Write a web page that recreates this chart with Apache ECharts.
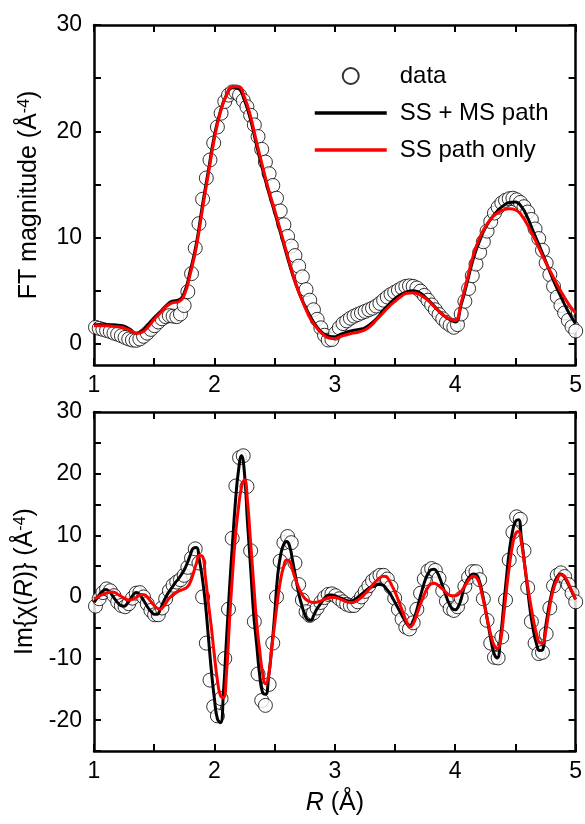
<!DOCTYPE html>
<html>
<head>
<meta charset="utf-8">
<script src="https://cdn.jsdelivr.net/npm/echarts@6/dist/echarts.min.js"></script>
<style>
  html, body { margin: 0; padding: 0; background: #fff; }
  #main { width: 585px; height: 824px; }
</style>
</head>
<body>
<div id="main"></div>
<script>
// sampling grids (R in Angstrom)
const dataR = Array.from({ length: 131 }, (_, i) => +(0.03068 * (33 + i)).toFixed(4));
const topFitR = Array.from({ length: 81 }, (_, i) => +(1 + 0.05 * i).toFixed(3));
const botFitR = Array.from({ length: 161 }, (_, i) => +(1 + 0.025 * i).toFixed(3));

// FT magnitude panel
const topData = [
  1.55, 1.45, 1.35, 1.25, 1.15, 1.0, 0.9, 0.75, 0.6, 0.45,
  0.35, 0.32, 0.45, 0.7, 1.0, 1.35, 1.7, 2.05, 2.35, 2.55,
  2.65, 2.6, 2.55, 2.8, 3.6, 4.9, 6.6, 9.0, 11.3, 13.6,
  15.6, 17.3, 18.9, 20.4, 21.7, 22.8, 23.4, 23.7, 23.7, 23.4,
  22.9, 22.3, 21.5, 20.6, 19.5, 18.3, 17.1, 16.0, 14.9, 13.7,
  12.5, 11.2, 10.1, 9.2, 8.3, 7.3, 6.3, 5.1, 4.1, 3.2,
  2.3, 1.5, 0.8, 0.35, 0.4, 1.0, 1.5, 1.9, 2.15, 2.4,
  2.6, 2.75, 2.9, 3.05, 3.2, 3.35, 3.55, 3.8, 4.1, 4.4,
  4.65, 4.85, 5.05, 5.25, 5.4, 5.45, 5.4, 5.25, 4.95, 4.55,
  4.1, 3.65, 3.2, 2.75, 2.35, 2.0, 1.75, 1.55, 1.8, 2.8,
  4.0, 5.2, 6.4, 7.5, 8.6, 9.6, 10.6, 11.5, 12.3, 12.85,
  13.25, 13.5, 13.65, 13.7, 13.55, 13.3, 12.9, 12.4, 11.7, 10.8,
  9.9, 8.8, 7.6, 6.5, 5.4, 4.4, 3.6, 2.9, 2.2, 1.6,
  1.2
];
const topSSMS = [
  1.8, 1.8, 1.8, 1.8, 1.75, 1.65, 1.35, 1.0, 1.2, 1.8,
  2.45, 3.0, 3.6, 4.0, 4.1, 4.8, 6.9, 9.4, 13.0, 16.3,
  19.6, 21.9, 23.4, 24.1, 24.0, 22.9, 21.1, 18.7, 16.4, 14.3,
  12.4, 10.4, 8.4, 6.5, 4.9, 3.6, 2.5, 1.6, 1.0, 0.7,
  0.65, 0.9, 1.1, 1.25, 1.35, 1.5, 1.9, 2.4, 3.1, 3.7,
  4.25, 4.65, 4.9, 5.0, 4.85, 4.4, 3.85, 3.25, 2.7, 2.3,
  2.05, 3.7, 5.8, 8.0, 9.6, 10.9, 11.8, 12.5, 13.0, 13.3,
  13.35, 12.9, 11.9, 10.5, 9.2, 7.8, 6.4, 5.1, 3.9, 2.8,
  1.9
];
const topSS = [
  1.7, 1.7, 1.7, 1.65, 1.6, 1.5, 1.25, 1.0, 1.1, 1.6,
  2.3, 2.9, 3.5, 3.85, 3.95, 4.6, 6.6, 9.1, 12.6, 16.0,
  19.3, 21.8, 23.4, 24.2, 24.2, 23.2, 21.4, 19.0, 16.7, 14.5,
  12.6, 10.6, 8.6, 6.6, 4.9, 3.5, 2.3, 1.5, 0.9, 0.55,
  0.5, 0.7, 0.85, 1.0, 1.1, 1.3, 1.7, 2.3, 2.9, 3.5,
  4.0, 4.45, 4.75, 4.8, 4.65, 4.3, 3.8, 3.2, 2.7, 2.35,
  2.2, 3.9, 6.1, 8.3, 9.9, 11.0, 11.8, 12.3, 12.6, 12.7,
  12.6, 12.1, 11.2, 10.1, 8.9, 7.7, 6.6, 5.5, 4.5, 3.6,
  2.9
];

// Im{chi(R)} panel
const botData = [
  -1.5, -0.3, 0.7, 1.3, 1.0, 0.2, -0.8, -1.4, -1.6, -1.1,
  -0.2, 0.6, 0.7, 0.0, -1.1, -2.2, -2.9, -2.9, -1.8, -0.3,
  1.0, 1.9, 2.4, 2.8, 3.5, 4.8, 6.3, 7.8, 5.5, 0.0,
  -7.5, -13.5, -17.8, -19.3, -16.5, -10.0, -2.0, 9.5, 18.0, 22.6,
  22.9, 17.9, 7.5, -4.0, -12.5, -16.8, -17.6, -14.2, -7.5, 0.0,
  5.8, 8.8, 9.8, 8.8, 5.5, 2.0, -0.5, -2.4, -3.0, -2.6,
  -1.8, -0.9, -0.1, 0.4, 0.5, 0.2, -0.3, -0.8, -1.2, -1.4,
  -1.4, -0.8, 0.0, 0.9, 1.8, 2.6, 3.1, 3.5, 3.5, 2.9,
  1.6, -0.2, -2.0, -3.6, -4.9, -5.2, -4.2, -2.0, 0.6, 2.9,
  4.2, 4.6, 4.3, 3.0, 1.0, -0.7, -1.9, -2.2, -1.6, -0.2,
  1.7, 3.2, 4.1, 4.1, 2.8, -0.3, -3.8, -7.5, -9.8, -9.9,
  -6.5, -0.5, 6.0, 10.5, 13.0, 12.6, 7.5, 1.5, -4.0, -7.5,
  -9.2, -9.0, -6.0, -1.8, 1.8, 3.5, 3.9, 3.3, 2.0, 0.6,
  -0.8
];
const botSSMS = [
  -0.9, -0.2, 0.5, 1.0, 1.2, 0.9, 0.3, -0.4, -1.0, -1.4,
  -1.5, -1.1, -0.4, 0.3, 0.7, 0.5, -0.2, -1.0, -1.8, -2.4,
  -2.8, -2.8, -2.0, -0.9, 0.1, 0.9, 1.6, 2.3, 2.9, 3.6,
  4.4, 5.5, 6.8, 7.9, 8.0, 6.0, 3.0, -1.0, -6.5, -12.0,
  -16.5, -19.8, -20.4, -15.5, -7.0, 1.2, 8.6, 15.5, 20.5, 22.9,
  20.0, 12.0, 5.0, -2.5, -7.5, -12.5, -15.5, -15.8, -13.0, -8.5,
  -3.0, 3.4, 6.8, 8.5, 9.0, 8.2, 5.8, 3.2, 0.6, -1.3,
  -2.8, -3.7, -3.8, -3.0, -2.0, -1.3, -0.6, 0.0, 0.3, 0.3,
  0.2, 0.0, -0.2, -0.4, -0.6, -0.7, -0.6, -0.3, 0.1, 0.5,
  0.9, 1.3, 1.6, 1.8, 2.0, 2.0, 1.9, 1.4, 0.8, 0.0,
  -0.9, -1.8, -2.7, -3.6, -4.4, -4.6, -3.9, -2.5, -0.7, 1.1,
  2.7, 3.8, 4.4, 4.5, 4.0, 2.9, 1.5, 0.1, -1.1, -1.9,
  -2.1, -1.6, -0.3, 1.6, 2.7, 3.4, 3.7, 3.6, 2.6, 0.6,
  -1.9, -4.6, -7.3, -9.3, -9.9, -6.8, -2.0, 3.0, 7.5, 10.5,
  12.2, 12.5, 9.5, 5.5, 1.5, -2.5, -5.5, -7.6, -8.7, -8.6,
  -5.0, -2.0, 0.5, 2.3, 3.3, 3.7, 3.4, 2.6, 1.6, 0.6,
  -0.4
];
const botSS = [
  -0.3, -0.1, 0.2, 0.4, 0.6, 0.75, 0.8, 0.7, 0.4, 0.1,
  -0.2, -0.45, -0.5, -0.35, -0.1, 0.2, 0.4, 0.3, -0.2, -0.8,
  -1.4, -1.85, -2.0, -1.6, -0.9, -0.2, 0.3, 0.6, 0.9, 1.1,
  1.3, 1.6, 2.4, 3.8, 5.4, 6.7, 6.6, 3.3, -1.0, -5.0,
  -9.5, -13.5, -16.0, -16.3, -12.5, -4.0, 3.5, 10.0, 14.5, 17.8,
  19.0, 15.5, 9.0, 2.5, -4.0, -8.5, -12.3, -14.1, -12.8, -8.5,
  -4.5, -0.5, 2.8, 4.9, 6.0, 5.8, 4.3, 2.8, 1.5, 0.5,
  -0.2, -0.6, -0.8, -0.9, -0.85, -0.75, -0.5, -0.3, -0.15, -0.1,
  -0.1, -0.2, -0.4, -0.6, -0.8, -0.9, -0.9, -0.7, -0.4, 0.0,
  0.5, 1.0, 1.6, 2.2, 2.7, 3.1, 3.35, 3.3, 2.7, 1.8,
  0.8, -0.4, -1.7, -3.0, -4.2, -4.9, -4.4, -3.2, -1.8, -0.5,
  0.7, 1.6, 2.1, 2.2, 2.0, 1.6, 1.2, 0.7, 0.3, 0.2,
  0.2, 0.4, 0.9, 1.6, 2.4, 3.0, 3.4, 3.2, 2.2, 0.2,
  -2.0, -4.4, -6.5, -7.9, -8.4, -7.3, -3.5, 1.0, 5.0, 8.3,
  10.2, 10.6, 8.8, 5.5, 2.0, -1.0, -3.8, -6.0, -7.4, -7.5,
  -5.8, -2.8, 0.0, 1.8, 3.0, 3.6, 3.5, 2.8, 1.8, 0.7,
  -0.4
];

const xTicks = [1, 2, 3, 4, 5];
const topYLabels = [0, 10, 20, 30];
const topYTicks = [0, 5, 10, 15, 20, 25, 30];

const font = 'Arial, "Liberation Sans", Helvetica, sans-serif';
const pairs = (xs, ys) => xs.map((x, i) => [x, ys[i]]);

const axisLine = { show: true, onZero: false, lineStyle: { color: '#000', width: 2.5 } };
const tick = { inside: true, length: 7, lineStyle: { color: '#000', width: 2 } };
const label = { color: '#000', fontSize: 23, fontFamily: font };
const nameStyle = {
  color: '#000', fontSize: 25, fontFamily: font,
  rich: {
    i: { fontStyle: 'italic', fontSize: 25, fontFamily: font, color: '#000' },
    s: { fontSize: 16, fontFamily: font, color: '#000', verticalAlign: 'top' }
  }
};
const hiddenDot = { color: 'rgba(0,0,0,0)', borderColor: 'rgba(0,0,0,0)', borderWidth: 0, opacity: 0 };

function xAxisFor(grid, pos, withLabels, name) {
  return {
    gridIndex: grid, type: 'value', position: pos, min: 1, max: 5, interval: 0.5,
    axisLine: axisLine, axisTick: tick, splitLine: { show: false },
    axisLabel: withLabels ? Object.assign({
      margin: 9,
      formatter: v => (xTicks.indexOf(v) >= 0 ? String(v) : '')
    }, label) : { show: false },
    name: name || '', nameLocation: 'middle', nameGap: 40, nameTextStyle: nameStyle
  };
}

const option = {
  animation: false,
  backgroundColor: '#fff',
  grid: [
    { left: 94, right: 7, top: 25, height: 340 },
    { left: 94, right: 7, top: 412, height: 339 }
  ],
  legend: {
    data: [
      { name: 'data' },
      { name: 'SS + MS path', itemStyle: hiddenDot, lineStyle: { color: '#000', width: 3.5 } },
      { name: 'SS path only', itemStyle: hiddenDot, lineStyle: { color: '#ff0000', width: 3.5 } }
    ],
    orient: 'vertical',
    left: 308, top: 59,
    itemWidth: 72, itemHeight: 16, itemGap: 13,
    textStyle: { color: '#000', fontSize: 24, fontFamily: font, padding: [0, 0, 0, 8] }
  },
  xAxis: [
    xAxisFor(0, 'bottom', true),
    xAxisFor(0, 'top', false),
    xAxisFor(1, 'bottom', true, '{i|R} (Å)'),
    xAxisFor(1, 'top', false)
  ],
  yAxis: [
    {
      gridIndex: 0, type: 'value', position: 'left', min: -2, max: 30,
      axisLine: axisLine, splitLine: { show: false },
      axisTick: Object.assign({ customValues: topYTicks }, tick),
      axisLabel: Object.assign({ margin: 12, customValues: topYLabels }, label),
      name: 'FT magnitude (Å{s|-4})', nameLocation: 'middle', nameGap: 52, nameTextStyle: nameStyle
    },
    {
      gridIndex: 0, type: 'value', position: 'right', min: -2, max: 30,
      axisLine: axisLine, splitLine: { show: false },
      axisTick: Object.assign({ customValues: topYTicks }, tick),
      axisLabel: { show: false }
    },
    {
      gridIndex: 1, type: 'value', position: 'left', min: -25, max: 30, interval: 5,
      axisLine: axisLine, splitLine: { show: false }, axisTick: tick,
      axisLabel: Object.assign({ margin: 12, formatter: v => (v % 10 === 0 ? String(v) : '') }, label),
      name: 'Im{χ({i|R})} (Å{s|-4})', nameLocation: 'middle', nameGap: 52, nameTextStyle: nameStyle
    },
    {
      gridIndex: 1, type: 'value', position: 'right', min: -25, max: 30, interval: 5,
      axisLine: axisLine, splitLine: { show: false }, axisTick: tick,
      axisLabel: { show: false }
    }
  ],
  series: [
    {
      name: 'data', type: 'scatter', xAxisIndex: 0, yAxisIndex: 0, clip: false,
      symbol: 'circle', symbolSize: 14, z: 2,
      itemStyle: { color: '#fff', borderColor: '#000', borderWidth: 1 },
      data: pairs(dataR, topData)
    },
    {
      name: 'SS + MS path', type: 'line', xAxisIndex: 0, yAxisIndex: 0,
      smooth: true, symbol: 'none', z: 3,
      itemStyle: { color: '#000' }, lineStyle: { color: '#000', width: 3 },
      data: pairs(topFitR, topSSMS)
    },
    {
      name: 'SS path only', type: 'line', xAxisIndex: 0, yAxisIndex: 0,
      smooth: true, symbol: 'none', z: 4,
      itemStyle: { color: '#ff0000' }, lineStyle: { color: '#ff0000', width: 3 },
      data: pairs(topFitR, topSS)
    },
    {
      name: 'data', type: 'scatter', xAxisIndex: 2, yAxisIndex: 2, clip: false,
      symbol: 'circle', symbolSize: 14, z: 2,
      itemStyle: { color: '#fff', borderColor: '#000', borderWidth: 1 },
      data: pairs(dataR, botData)
    },
    {
      name: 'SS + MS path', type: 'line', xAxisIndex: 2, yAxisIndex: 2,
      smooth: true, symbol: 'none', z: 3,
      itemStyle: { color: '#000' }, lineStyle: { color: '#000', width: 3 },
      data: pairs(botFitR, botSSMS)
    },
    {
      name: 'SS path only', type: 'line', xAxisIndex: 2, yAxisIndex: 2,
      smooth: true, symbol: 'none', z: 4,
      itemStyle: { color: '#ff0000' }, lineStyle: { color: '#ff0000', width: 3 },
      data: pairs(botFitR, botSS)
    }
  ]
};

const chart = echarts.init(document.getElementById('main'), null, { renderer: 'canvas' });
chart.setOption(option);
</script>
</body>
</html>
